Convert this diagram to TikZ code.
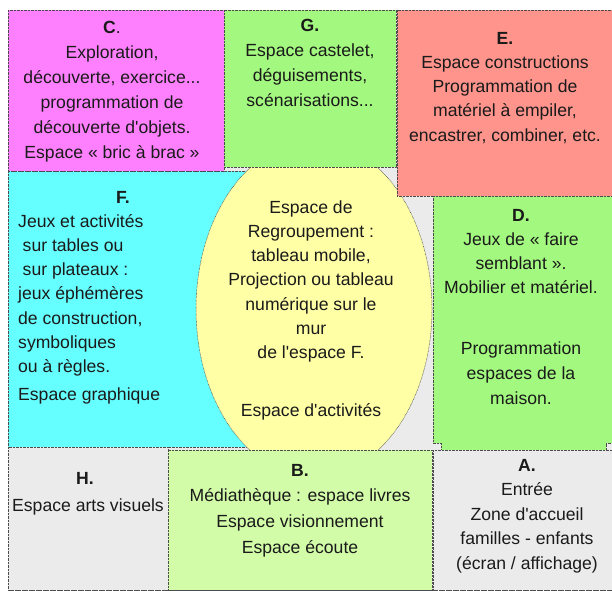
\documentclass[tikz,border=0pt]{standalone}
\usepackage{fontspec}
\newfontfamily\arialf{Liberation Sans}
\definecolor{cmag}{HTML}{FF80FF}
\definecolor{cgreen}{HTML}{A3F87F}
\definecolor{csalmon}{HTML}{FF948C}
\definecolor{ccyan}{HTML}{66FFFF}
\definecolor{cyel}{HTML}{FFFFA6}
\definecolor{clight}{HTML}{D2FCA8}
\definecolor{cgray}{HTML}{EBEBEB}
\definecolor{ctext}{HTML}{1A1A1A}
\newcommand\zdots{...}
\newcommand\zonetext[6]{%
  \foreach \zl [count=\zi] in {#6}{%
    \node[txt, anchor=#5] (#1-\zi) at (#2, {#3+(\zi-1)*#4}) {\zl};
  }}
\begin{document}
\begin{tikzpicture}[x=1pt,y=-1pt,
  zone/.style={draw=black!70, dash pattern=on 0.7pt off 0.7pt, line width=0.5pt},
  txt/.style={font=\arialf\fontsize{17.6}{24.5}\selectfont, inner sep=0pt, text=ctext}]
\useasboundingbox (0,0) rectangle (612,590);
\fill[white] (0,0) rectangle (612,590);
% background
\path[fill=cgray, zone] (8,10) rectangle (612,590);
% F
\path[fill=ccyan, zone] (8,171) rectangle (246,447);
% central ellipse
\path[fill=cyel, zone] (314,309) ellipse [x radius=118pt, y radius=168pt];
% C, G, E
\path[fill=cmag, zone] (8,10) rectangle (224,171);
\path[fill=cgreen, zone] (224,10) rectangle (396,167);
\path[fill=csalmon, zone] (397,10) rectangle (612,196);
% D
\path[fill=cgreen, zone] (433,196) -- (612,196) -- (612,443) -- (606,443) -- (606,450)
   -- (441,450) -- (441,443) -- (433,443) -- cycle;
% H, B, A
\path[fill=cgray, zone] (8,447) rectangle (168,590);
\path[fill=clight, zone] (168,450) rectangle (432,590);
\path[fill=cgray, zone] (433,450) rectangle (612,590);

% texts
\zonetext{C}{112}{33}{25}{base}{{\textbf{C}.},{Exploration,},{découverte, exercice\zdots},{programmation de},{découverte d'objets.},{Espace « bric à brac »}}
\zonetext{G}{310}{31}{25.3}{base}{{\textbf{G.}},{Espace castelet,},{déguisements,},{scénarisations\zdots}}
\zonetext{E}{505}{44}{24.3}{base}{{\textbf{E.}},{Espace constructions},{Programmation de},{matériel à empiler,},{encastrer, combiner, etc.}}
\node[txt, anchor=base] (Flab) at (123,203) {\textbf{F.}};
\zonetext{F}{18}{227}{24.3}{base west}{{Jeux et activités},{\hspace{4.5pt}sur tables ou},{\hspace{4.5pt}sur plateaux :},{jeux éphémères},{de construction,},{symboliques},{ou à règles.}}
\node[txt, anchor=base west] (Fend) at (18,400) {Espace graphique};
\zonetext{R}{311}{213}{24.33}{base}{{Espace de},{Regroupement :},{tableau mobile,},{Projection ou tableau},{numérique sur le},{mur},{de l'espace F.}}
\node[txt, anchor=base] (Ract) at (311,416) {Espace d'activités};
\zonetext{D}{521}{221}{24}{base}{{\textbf{D.}},{Jeux de « faire},{semblant ».},{Mobilier et matériel.}}
\zonetext{Dp}{521}{354}{25}{base}{{Programmation},{espaces de la},{maison.}}
\node[txt, anchor=base] (Hlab) at (85,484) {\textbf{H.}};
\node[txt, anchor=base] (Htxt) at (88,511) {Espace arts visuels};
\zonetext{B}{300}{476}{25.7}{base}{{\textbf{B.}},{Médiathèque : espace livres},{Espace visionnement},{Espace écoute}}
\zonetext{A}{527}{471}{24.5}{base}{{\textbf{A.}},{Entrée},{Zone d'accueil},{familles - enfants},{(écran / affichage)}}
\end{tikzpicture}
\end{document}
